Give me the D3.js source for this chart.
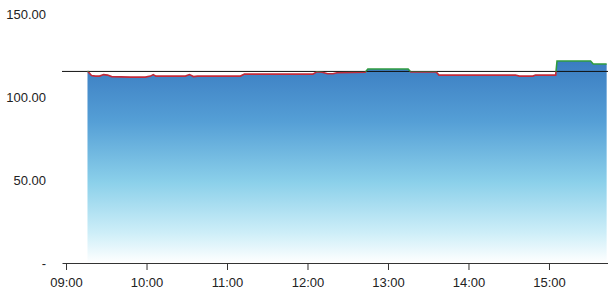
<!DOCTYPE html>
<html>
<head>
<meta charset="utf-8">
<script src="https://cdn.jsdelivr.net/npm/d3@7"></script>
<style>
  html, body { margin: 0; padding: 0; background: #fff; }
  svg { display: block; }
</style>
</head>
<body>
<svg id="chart"></svg>
<script>
/* ── Data ── */
const times = [
  '09:16', '09:19', '09:22', '09:25', '09:28', '09:31', '09:34', '09:48', '09:59',
  '10:03', '10:05', '10:07', '10:29', '10:32', '10:35', '10:38', '11:10', '11:13',
  '12:04', '12:07', '12:11', '12:15', '12:19', '12:22', '12:43', '12:45', '13:15',
  '13:17', '13:36', '13:38', '14:35', '14:38', '14:48', '14:50', '15:05', '15:06',
  '15:31', '15:33', '15:43'
];
const prices = [
  115.7, 113.0, 112.6, 112.6, 113.5, 113.2, 112.3, 112.0, 112.0,
  112.6, 113.5, 112.6, 112.6, 113.5, 112.3, 112.6, 112.6, 113.8,
  113.8, 115.2, 114.9, 114.0, 114.0, 114.6, 114.9, 116.9, 116.9,
  115.1, 115.1, 113.2, 113.2, 112.6, 112.6, 113.2, 113.2, 121.7,
  121.7, 119.9, 119.9
];
const baseline   = 115.4;
const xDomain    = ['08:57', '15:44'];
const xTicks     = ['09:00', '10:00', '11:00', '12:00', '13:00', '14:00', '15:00'];
const yTicks     = [0, 50, 100, 150];

const W = 608, H = 304;
const margin = { top: 14, right: 0, bottom: 41, left: 62 };
const FONT = '"Liberation Sans", Arial, Helvetica, sans-serif';

const parse = d3.timeParse('%H:%M');
const data  = times.map((t, i) => ({ t: parse(t), v: prices[i] }));

const svg = d3.select('#chart')
  .attr('width', W)
  .attr('height', H)
  .attr('viewBox', `0 0 ${W} ${H}`);

const x = d3.scaleTime()
  .domain(xDomain.map(parse))
  .range([margin.left, W - margin.right]);

const y = d3.scaleLinear()
  .domain([0, 150])
  .range([H - margin.bottom, margin.top]);

/* ── Gradient for the area ── */
const defs = svg.append('defs');
const grad = defs.append('linearGradient')
  .attr('id', 'areaGrad')
  .attr('gradientUnits', 'userSpaceOnUse')
  .attr('x1', 0).attr('x2', 0)
  .attr('y1', y(d3.max(prices))).attr('y2', y(0));
[
  [0,    '#3a7cc1'],
  [0.3,  '#559fd6'],
  [0.6,  '#8bd0ea'],
  [0.85, '#cdeef8'],
  [1,    '#ffffff']
].forEach(([o, c]) => grad.append('stop').attr('offset', o).attr('stop-color', c));

/* clip regions above / below baseline */
defs.append('clipPath').attr('id', 'above')
  .append('rect')
  .attr('x', 0).attr('y', 0)
  .attr('width', W).attr('height', y(baseline));
defs.append('clipPath').attr('id', 'below')
  .append('rect')
  .attr('x', 0).attr('y', y(baseline))
  .attr('width', W).attr('height', H - y(baseline));

/* ── Area ── */
const area = d3.area()
  .x(d => x(d.t))
  .y0(y(0))
  .y1(d => y(d.v));

svg.append('path')
  .datum(data)
  .attr('d', area)
  .attr('fill', 'url(#areaGrad)');

/* ── X axis ── */
svg.append('g')
  .attr('transform', `translate(0,${y(0)})`)
  .call(
    d3.axisBottom(x)
      .tickValues(xTicks.map(parse))
      .tickFormat(d3.timeFormat('%H:%M'))
      .tickSize(7)
      .tickSizeOuter(0)
  )
  .call(ax => ax.select('.domain').attr('stroke', '#333'))
  .call(ax => ax.selectAll('.tick line').attr('stroke', '#333'))
  .call(ax => ax.selectAll('.tick text')
    .attr('fill', '#222')
    .attr('font-size', 13)
    .attr('font-family', FONT)
    .attr('dy', '1.05em'));

/* ── Y axis labels ── */
svg.append('g')
  .attr('transform', `translate(${margin.left - 16},0)`)
  .call(
    d3.axisLeft(y)
      .tickValues(yTicks)
      .tickFormat(v => v === 0 ? '-' : d3.format('.2f')(v))
      .tickSize(0)
  )
  .call(ax => ax.select('.domain').remove())
  .call(ax => ax.selectAll('.tick text')
    .attr('fill', '#222')
    .attr('font-size', 13)
    .attr('font-family', FONT)
    .attr('x', 0));

/* ── Baseline ── */
svg.append('line')
  .attr('x1', margin.left).attr('x2', W)
  .attr('y1', y(baseline)).attr('y2', y(baseline))
  .attr('stroke', '#111')
  .attr('stroke-width', 1);

/* ── Price line, green above / red below baseline ── */
const line = d3.line()
  .x(d => x(d.t))
  .y(d => y(d.v));

svg.append('path')
  .datum(data)
  .attr('d', line)
  .attr('fill', 'none')
  .attr('stroke', '#c22a3a')
  .attr('stroke-width', 1.6)
  .attr('clip-path', 'url(#below)');

svg.append('path')
  .datum(data)
  .attr('d', line)
  .attr('fill', 'none')
  .attr('stroke', '#2f9c3f')
  .attr('stroke-width', 1.6)
  .attr('clip-path', 'url(#above)');
</script>
</body>
</html>
